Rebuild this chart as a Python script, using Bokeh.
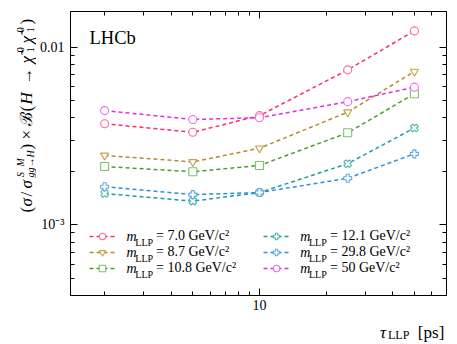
from math import pi
from bokeh.plotting import figure
from bokeh.layouts import row, column
from bokeh.models import (ColumnDataSource, Range1d, LogAxis, FixedTicker, Label,
                          Legend, LegendItem, CustomJSTickFormatter)
from bokeh.embed import file_html
from bokeh.resources import INLINE

# ---------------- data ----------------
tau_ps = [2, 5, 10, 25, 50]
mass_labels = ["7.0", "8.7", "10.8", "12.1", "29.8", "50"]
limit_m7p0 = [0.00371, 0.00332, 0.00412, 0.00746, 0.01236]
limit_m8p7 = [0.00246, 0.00226, 0.00270, 0.00431, 0.00730]
limit_m10p8 = [0.00213, 0.00199, 0.00216, 0.00330, 0.00547]
limit_m12p1 = [0.00150, 0.00136, 0.00152, 0.00221, 0.00351]
limit_m29p8 = [0.00164, 0.00148, 0.00152, 0.00183, 0.00251]
limit_m50 = [0.00440, 0.00392, 0.00401, 0.00494, 0.00596]

x_major_ticks = [10]
x_tick_labels = ["10"]
x_minor_ticks = [2, 3, 4, 5, 6, 7, 8, 9, 20, 30, 40, 50, 60]
y_major_ticks = [0.001, 0.01]
y_tick_labels = ["10\u207b\u00b3", "0.01"]
y_minor_ticks = [0.0004, 0.0005, 0.0006, 0.0007, 0.0008, 0.0009,
                 0.002, 0.003, 0.004, 0.005, 0.006, 0.007, 0.008, 0.009]

series = [limit_m7p0, limit_m8p7, limit_m10p8, limit_m12p1, limit_m29p8, limit_m50]

# ---------------- styles ----------------
FONT = "Liberation Serif"
line_colors = ["#ff2d6a", "#b08d2f", "#4a9f2a", "#1f9b9b", "#2f8fdf", "#e22ee2"]
marker_colors = ["#ff6b93", "#c4a24c", "#7cc36a", "#4db3b3", "#5aa9ea", "#ee6cee"]
markers = ["circle", "inverted_triangle", "square", "plus", "plus", "circle"]
angles = [0, 0, 0, pi / 4, 0, 0]

# main plot: page x 36..456, y 0..316 ; frame x 70..446, y 11..295
p = figure(width=420, height=316, x_axis_type="log", y_axis_type="log",
           x_range=Range1d(1.403, 69.8), y_range=Range1d(4.0e-4, 0.0159),
           output_backend="svg", toolbar_location=None,
           min_border_left=34, min_border_right=10, min_border_top=11, min_border_bottom=21,
           background_fill_color="white", border_fill_color="white")
p.grid.visible = False
p.outline_line_color = "black"

xbottom = p.below[0]
yleft = p.left[0]
xtop = LogAxis()
yright = LogAxis()
p.add_layout(xtop, "above")
p.add_layout(yright, "right")

code = """
let best = 0, d = Infinity;
for (let i = 0; i < vals.length; i++) { const e = Math.abs(Math.log10(tick) - Math.log10(vals[i])); if (e < d) { d = e; best = i; } }
return labs[best];
"""
xbottom.formatter = CustomJSTickFormatter(args=dict(vals=x_major_ticks, labs=x_tick_labels), code=code)
yleft.formatter = CustomJSTickFormatter(args=dict(vals=y_major_ticks, labs=y_tick_labels), code=code)

for ax in [xbottom, xtop]:
    ax.ticker = FixedTicker(ticks=x_major_ticks, minor_ticks=x_minor_ticks)
for ax in [yleft, yright]:
    ax.ticker = FixedTicker(ticks=y_major_ticks, minor_ticks=y_minor_ticks)
for ax in [xbottom, xtop, yleft, yright]:
    ax.major_tick_in = 7
    ax.major_tick_out = 0
    ax.minor_tick_in = 4
    ax.minor_tick_out = 0
    ax.axis_line_color = "black"
    ax.major_tick_line_color = "black"
    ax.minor_tick_line_color = "black"
    ax.major_label_text_font = FONT
    ax.major_label_text_font_size = "14px"
    ax.major_label_text_color = "black"
xbottom.major_label_standoff = 4
yleft.major_label_standoff = 6
for ax in [xtop, yright]:
    ax.major_label_text_font_size = "0px"
    ax.major_label_standoff = 0
    ax.formatter = CustomJSTickFormatter(code="return '';")

renderers = []
for i, ys in enumerate(series):
    src = ColumnDataSource(dict(x=tau_ps, y=ys))
    lr = p.line("x", "y", source=src, line_color=line_colors[i], line_width=1.5, line_dash="4 3")
    sr = p.scatter("x", "y", source=src, marker=markers[i], size=8, angle=angles[i],
                   line_color=marker_colors[i], fill_color="white", line_width=1.1)
    renderers.append([lr, sr])

def make_legend(idx, loc):
    items = [LegendItem(label="= %s GeV/c\u00b2" % mass_labels[i], renderers=renderers[i]) for i in idx]
    return Legend(items=items, location=loc, padding=0, margin=0, spacing=0,
                  glyph_width=26, glyph_height=16, label_height=16, label_standoff=41,
                  label_text_font=FONT, label_text_font_size="14px", label_text_color="black",
                  border_line_color=None, background_fill_alpha=0)

# location = bottom-left corner of legend, from frame bottom-left
p.add_layout(make_legend([0, 1, 2], (19, 19)))
p.add_layout(make_legend([3, 4, 5], (193, 19)))

def lab(fig, text, x, y, size, style="normal", angle=0, baseline="alphabetic", units="data"):
    fig.add_layout(Label(x=x, y=y, x_units=units, y_units=units, text=text,
                         text_font=FONT, text_font_size="%gpx" % size, text_font_style=style,
                         text_color="black", angle=angle, text_baseline=baseline, text_align="left"))

# in-frame texts of the main plot (canvas px of p = page px - (36, 0))
for col_x in [90, 263.7]:
    for row_c in [236, 252, 268]:
        lab(p, "m", col_x, row_c, 14, "italic", baseline="middle", units="canvas")
        lab(p, "LLP", col_x + 8.8, row_c + 5.8, 10, units="canvas")
lab(p, "LHCb", 53, 37.5, 18.5, units="canvas")

# y-axis title strip: page x 0..36 (data units = page px, y downwards)
yfig = figure(width=36, height=343, x_range=Range1d(0, 36), y_range=Range1d(343, 0),
              output_backend="svg", toolbar_location=None, x_axis_location=None,
              y_axis_location=None, min_border=0, outline_line_color=None,
              background_fill_color="white", border_fill_color="white")
yfig.grid.visible = False
ypieces = [
    ("(", 212, 26, 17, "normal"),
    ("\u03c3", 206, 26, 17, "italic"),
    ("/", 196, 26, 17, "normal"),
    ("\u03c3", 188, 26, 17, "italic"),
    ("S", 176.5, 19.5, 10, "italic"),
    ("M", 166, 19.5, 10, "italic"),
    ("gg\u2192H", 177, 29.5, 10, "italic"),
    (")", 149, 26, 17, "normal"),
    ("\u00d7", 139, 26, 17, "normal"),
    ("\u212c", 125, 26, 17, "normal"),
    ("(", 111, 26, 17, "normal"),
    ("H", 104, 26, 17, "italic"),
    ("\u2192", 84, 26, 17, "normal"),
    ("\u03c7\u0303", 63, 26, 17, "italic"),
    ("0", 52, 19.5, 11, "normal"),
    ("1", 52, 29.5, 11, "normal"),
    ("\u03c7\u0303", 43, 26, 17, "italic"),
    ("0", 32, 19.5, 11, "normal"),
    ("1", 32, 29.5, 11, "normal"),
    (")", 24, 26, 17, "normal"),
]
for t, yy, xx, sz, st in ypieces:
    lab(yfig, t, xx, yy, sz, st, angle=pi / 2)

# x-axis title strip: page x 36..456, y 316..343
xfig = figure(width=420, height=27, x_range=Range1d(36, 456), y_range=Range1d(343, 316),
              output_backend="svg", toolbar_location=None, x_axis_location=None,
              y_axis_location=None, min_border=0, outline_line_color=None,
              background_fill_color="white", border_fill_color="white")
xfig.grid.visible = False
lab(xfig, "\u03c4", 381.7, 331.5, 17, "italic")
lab(xfig, "LLP", 390.7, 334, 12)
lab(xfig, "[ps]", 424, 331.5, 17)

root = row(yfig, column(p, xfig, spacing=0), spacing=0)
open("out.html", "w").write(file_html(root, INLINE))
